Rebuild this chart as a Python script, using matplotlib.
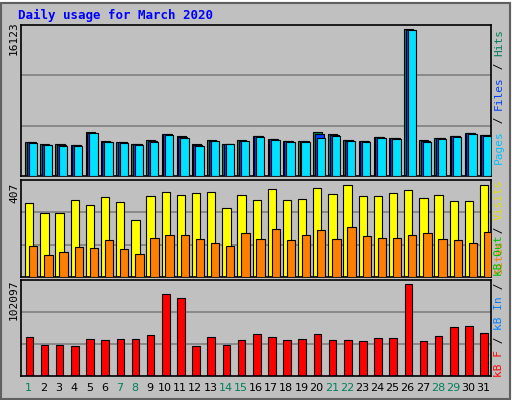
import matplotlib
matplotlib.use("Agg")
import matplotlib.pyplot as plt
from matplotlib.patches import Rectangle

days = list(range(1, 32))
weekend = [1, 7, 8, 14, 15, 21, 22, 28, 29]
hits = [3740,3520,3520,3410,4840,3850,3740,3520,3960,4620,4400,3520,3960,3520,3960,4400,4070,3850,3850,4840,4620,3960,3850,4290,4180,16123,3960,4180,4400,4730,4510]
files = [3690,3450,3420,3360,4780,3780,3700,3470,3850,4570,4300,3400,3900,3520,3900,4350,4020,3800,3800,4620,4520,3900,3800,4240,4130,16100,3850,4130,4350,4680,4460]
pages = [3630,3380,3300,3300,4700,3710,3630,3410,3740,4510,4180,3300,3850,3520,3850,4290,3960,3740,3740,4180,4400,3850,3740,4180,4070,16060,3740,4070,4290,4620,4400]
visits = [328,284,284,341,319,354,332,253,358,376,363,372,376,306,363,341,389,341,345,394,367,407,358,358,372,385,350,363,336,336,407]
sites = [138,98,112,134,129,165,125,103,173,187,187,169,151,138,195,169,213,165,187,209,169,222,182,173,173,187,195,169,165,151,200]
kbytes = [43290,34040,34040,32930,41070,39960,41070,41070,45510,91020,86580,32930,43290,34040,39960,46620,43290,39960,41070,46620,39960,39960,38850,42180,42180,102097,38850,44400,54390,55500,47730]

W, H = 512, 400
fig = plt.figure(figsize=(W/100, H/100), dpi=100)
fig.patch.set_facecolor("#c0c0c0")
fig.add_artist(Rectangle((0, 0), 1, 1, transform=fig.transFigure, fill=False, ec="white", lw=2))
fig.add_artist(Rectangle((1/W, 1/H), 1-3/W, 1-4/H, transform=fig.transFigure, fill=False, ec="#606060", lw=1.5))

mono = "DejaVu Sans Mono"
BG = "#c0c0c0"
LW = 0.8

def ax_px(x0, y0, x1, y1):
    a = fig.add_axes([x0/W, 1-y1/H, (x1-x0)/W, (y1-y0)/H])
    a.set_facecolor(BG)
    a.set_xlim(0, 31)
    a.set_xticks([]); a.set_yticks([])
    for s in a.spines.values():
        s.set_linewidth(1.2)
    return a

def grid3(a, top):
    for f in (1/3, 2/3):
        a.axhline(top*f, color="#808080", lw=1.2, zorder=0)

x0s = [d-1 for d in days]

a1 = ax_px(21, 25, 491, 176)
top1 = 16123*151/146.7
a1.set_ylim(0, top1); grid3(a1, top1)
a1.bar([x+0.27 for x in x0s], hits, width=0.6, align="edge", color="#00805c", ec="black", lw=LW, zorder=2)
a1.bar([x+0.37 for x in x0s], files, width=0.6, align="edge", color="#0040ff", ec="black", lw=LW, zorder=3)
a1.bar([x+0.5 for x in x0s], pages, width=0.55, align="edge", color="#00e0ff", ec="black", lw=LW, zorder=4)

a2 = ax_px(21, 180, 491, 277)
top2 = 407*97/92.3
a2.set_ylim(0, top2); grid3(a2, top2)
a2.bar([x+0.27 for x in x0s], visits, width=0.55, align="edge", color="#ffff00", ec="black", lw=LW, zorder=2)
a2.bar([x+0.53 for x in x0s], sites, width=0.55, align="edge", color="#ff8000", ec="black", lw=LW, zorder=3)

a3 = ax_px(21, 280, 491, 376)
top3 = 102097*96/92
a3.set_ylim(0, top3); grid3(a3, top3)
a3.bar([x+0.3 for x in x0s], kbytes, width=0.5, align="edge", color="#ff0000", ec="black", lw=LW, zorder=2)

fs = 8
fig.text(18/W, 1-15/H, "Daily usage for March 2020", color="#0000ff", fontsize=9, fontweight="bold", family=mono, va="center")
fig.text(14/W, 1-38/H, "16123", rotation=90, fontsize=fs, family=mono, ha="center", va="center")
fig.text(14/W, 1-193/H, "407", rotation=90, fontsize=fs, family=mono, ha="center", va="center")
fig.text(14/W, 1-300/H, "102097", rotation=90, fontsize=fs, family=mono, ha="center", va="center")

renderer = fig.canvas.get_renderer()

def vlabel(parts, xc, ybottom):
    y = ybottom
    for txt, col in parts:
        t = fig.text(xc/W, 1-y/H, txt, rotation=90, fontsize=fs, family=mono, color=col,
                     ha="center", va="bottom", rotation_mode="anchor" if False else "default")
        ext = t.get_window_extent(renderer)
        y -= ext.height

vlabel([("Pages", "#00c0ff"), (" / ", "black"), ("Files", "#0040ff"), (" / ", "black"), ("Hits", "#00805c")], 499, 164)
vlabel([("Sites", "#ff8000"), (" / ", "black"), ("Visits", "#e0e000")], 499, 274)
vlabel([("kB F", "#ff0000"), (" / ", "black"), ("kB In", "#0080ff"), (" / ", "black"), ("kB Out", "#00c000")], 499, 377)

for d in days:
    fig.text((21 + (d-0.5)*470/31)/W, 1-388/H, str(d), fontsize=fs, family="DejaVu Sans",
             color="#00805c" if d in weekend else "black", ha="center", va="center")

fig.savefig("out.png", dpi=100, facecolor=fig.get_facecolor())
